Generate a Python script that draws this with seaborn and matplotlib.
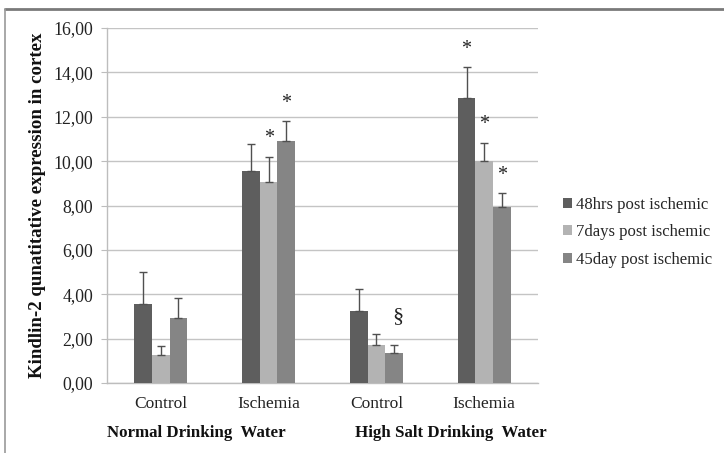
import matplotlib
matplotlib.use("Agg")
import matplotlib.pyplot as plt
from matplotlib.lines import Line2D
import seaborn as sns
import pandas as pd
import numpy as np

# ---- data ----
categories = ["Normal Control", "Normal Ischemia", "HighSalt Control", "HighSalt Ischemia"]
cat_labels = ["Control", "Ischemia", "Control", "Ischemia"]
series = ["48hrs post ischemic", "7days post ischemic", "45day post ischemic"]
vals_48h = [3.55, 9.55, 3.25, 12.85]
vals_7d = [1.28, 9.07, 1.70, 10.00]
vals_45d = [2.92, 10.90, 1.33, 7.95]
err_48h = [1.45, 1.20, 0.98, 1.38]
err_7d = [0.37, 1.13, 0.53, 0.83]
err_45d = [0.93, 0.90, 0.37, 0.60]
marks_48h = ["", "", "", "*"]
marks_7d = ["", "*", "", "*"]
marks_45d = ["", "*", "§", "*"]
group_labels = ["Normal Drinking  Water", "High Salt Drinking  Water"]
y_ticks = [0, 2, 4, 6, 8, 10, 12, 14, 16]
y_label = "Kindlin-2 qunatitative expression in cortex"

colors = ["#5e5e5e", "#b3b3b3", "#858585"]

vals = [vals_48h, vals_7d, vals_45d]
errs = [err_48h, err_7d, err_45d]
marks = [marks_48h, marks_7d, marks_45d]

rows = []
for s, v in zip(series, vals):
    for c, x in zip(categories, v):
        rows.append({"group": c, "time": s, "value": x})
df = pd.DataFrame(rows)

sns.set_style("white")
plt.rcParams["font.family"] = ["Liberation Serif", "DejaVu Serif"]

fig = plt.figure(figsize=(7.24, 4.53), dpi=100)
ax = fig.add_axes([107 / 724, 1 - 383 / 453, 431 / 724, 355 / 453])

sns.barplot(data=df, x="group", y="value", hue="time", order=categories,
            hue_order=series, palette=colors, saturation=1, width=0.49,
            errorbar=None, ax=ax, zorder=3, linewidth=0)

# error bars & markers from the drawn bars
for i, s in enumerate(series):
    cont = ax.containers[i]
    xs = [p.get_x() + p.get_width() / 2 for p in cont.patches]
    ys = [p.get_height() for p in cont.patches]
    ax.errorbar(xs, ys, yerr=[np.zeros(len(ys)), errs[i]], fmt="none",
                ecolor="#505050", elinewidth=1.0, capsize=3, capthick=1.0, zorder=4)
    for x, y, e, m in zip(xs, ys, errs[i], marks[i]):
        if m == "*":
            ax.text(x, y + e + 0.8, m, ha="center", va="center", fontsize=14.5,
                    color="#222222", zorder=5)
        elif m:
            ax.text(x + 0.04, y + e + 1.3, m, ha="center", va="center", fontsize=16,
                    color="#222222", zorder=5)

ax.set_ylim(0, 16)
ax.set_xlim(-0.5, 3.5)
ax.set_yticks(y_ticks)
ax.set_yticklabels([f"{t:.2f}".replace(".", ",") for t in y_ticks], fontsize=12.8, color="#222222")
ax.set_xticks(range(len(categories)))
ax.set_xticklabels(cat_labels, fontsize=12.5, color="#222222")
ax.tick_params(axis="x", length=0, pad=9)
ax.tick_params(axis="y", length=4, width=0.8, color="#bdbdbd", pad=6, left=True)
ax.yaxis.grid(True, color="#c4c4c4", linewidth=1.0, zorder=0)
ax.set_axisbelow(True)
for side in ["top", "right"]:
    ax.spines[side].set_visible(False)
ax.spines["left"].set_color("#bdbdbd")
ax.spines["bottom"].set_color("#bdbdbd")
ax.spines["left"].set_linewidth(1.0)
ax.spines["bottom"].set_linewidth(1.0)
ax.set_xlabel("")
ax.set_ylabel(y_label, fontsize=13.6, fontweight="bold", color="#111111")
ax.yaxis.set_label_coords(-0.142, 0.5)

ax.legend(loc="upper left", bbox_to_anchor=(563 / 724, 1 - 197 / 453),
          bbox_transform=fig.transFigure, frameon=False, fontsize=12,
          handlelength=0.55, handleheight=0.55, handletextpad=0.25,
          labelspacing=0.68, borderpad=0, borderaxespad=0)

fig.text(107 / 724, 1 - 433 / 453, group_labels[0], ha="left", va="center",
         fontsize=12.2, fontweight="bold", color="#111111")
fig.text(355 / 724, 1 - 433 / 453, group_labels[1], ha="left", va="center",
         fontsize=12.2, fontweight="bold", color="#111111")

# figure frame (top and left edges)
fig.add_artist(Line2D([5 / 724, 1], [1 - 9 / 453, 1 - 9 / 453], transform=fig.transFigure,
                      color="#7a7a7a", linewidth=2.0))
fig.add_artist(Line2D([5 / 724, 5 / 724], [0, 1 - 9 / 453], transform=fig.transFigure,
                      color="#9a9a9a", linewidth=1.2))

fig.savefig("out.png", dpi=100)
